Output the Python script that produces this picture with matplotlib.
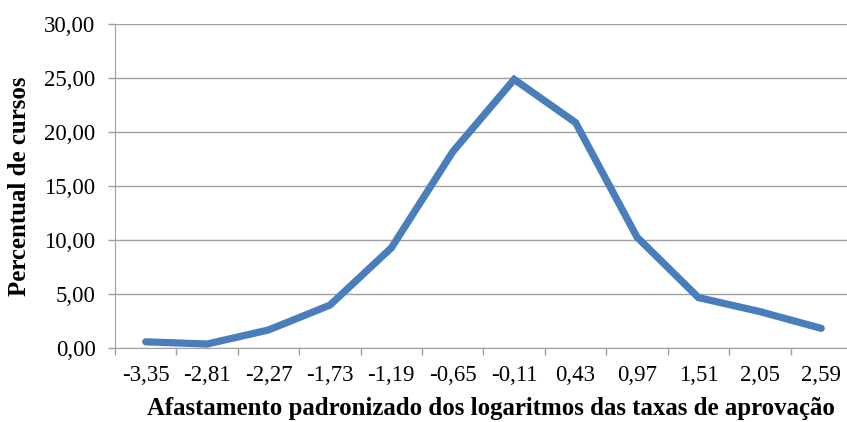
import matplotlib.pyplot as plt
from matplotlib.ticker import FixedLocator, FuncFormatter

categorias = ["-3,35", "-2,81", "-2,27", "-1,73", "-1,19", "-0,65",
              "-0,11", "0,43", "0,97", "1,51", "2,05", "2,59"]
percentual = [0.6, 0.4, 1.7, 4.0, 9.3, 18.2, 24.9, 20.9, 10.3, 4.7, 3.4, 1.85]

plt.rcParams['font.family'] = ['Liberation Serif', 'DejaVu Serif']

fig = plt.figure(figsize=(8.47, 4.22), dpi=100)
# right edge runs a little past the figure, as in the reference
ax = fig.add_axes([0.1358, 0.1746, 0.870, 0.7678])

x = list(range(len(categorias)))
ax.plot(x, percentual, color='#4a7ebb', linewidth=5.2, solid_joinstyle='miter',
        solid_capstyle='round', zorder=3, clip_on=False)

ax.set_xlim(-0.5, len(categorias) - 0.5)
ax.set_ylim(0, 30)
ax.set_yticks([0, 5, 10, 15, 20, 25, 30])
ax.yaxis.set_major_formatter(FuncFormatter(lambda v, p: f"{v:.2f}".replace('.', ',')))
ax.grid(axis='y', color='#a0a0a0', linewidth=1)
ax.set_axisbelow(True)

# ticks between categories, labels on categories
ax.xaxis.set_major_locator(FixedLocator([i - 0.5 for i in range(len(categorias) + 1)]))
ax.xaxis.set_major_formatter(FuncFormatter(lambda v, p: ""))
ax.xaxis.set_minor_locator(FixedLocator(x))
ax.set_xticklabels(categorias, minor=True)
ax.tick_params(axis='x', which='major', length=5, color='#a0a0a0', width=1)
ax.tick_params(axis='x', which='minor', length=0, labelsize=16.5, pad=12)
ax.tick_params(axis='y', length=5, color='#a0a0a0', width=1, labelsize=16.5, pad=9)

for s in ['top', 'right']:
    ax.spines[s].set_visible(False)
ax.spines['left'].set_color('#a0a0a0')
ax.spines['bottom'].set_color('#a0a0a0')

ax.set_xlabel("Afastamento padronizado dos logaritmos das taxas de aprovação",
              fontsize=17.9, fontweight='bold')
ax.xaxis.set_label_coords(0.51, -0.15)
ax.set_ylabel("Percentual de cursos", fontsize=17.9, fontweight='bold')
ax.yaxis.set_label_coords(-0.114, 0.5)

fig.savefig("out.png", dpi=100)
